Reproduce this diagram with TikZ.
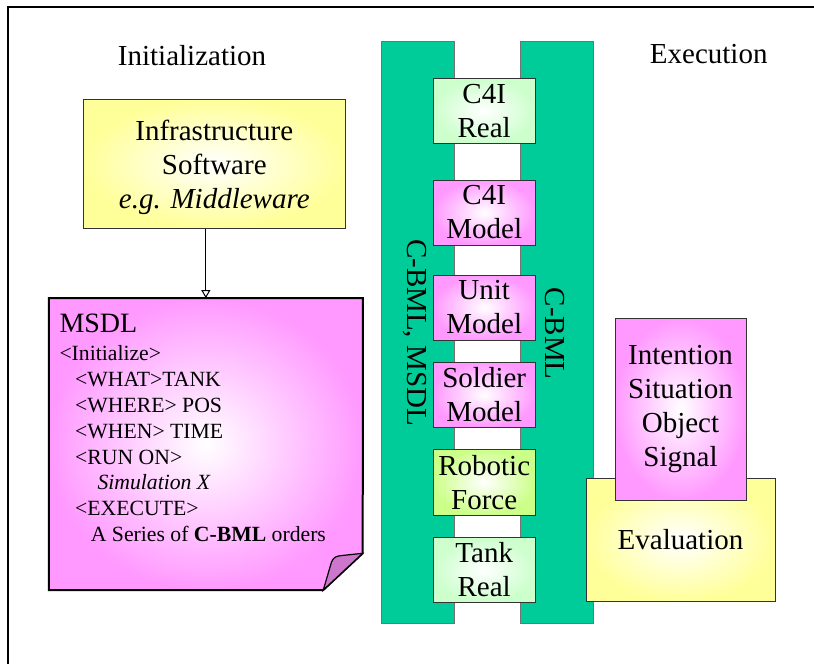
\documentclass[tikz,border=0pt]{standalone}
\usepackage{fontspec}
\setmainfont{Liberation Serif}
\usetikzlibrary{arrows.meta}
\definecolor{barcol}{HTML}{00CC99}
\definecolor{pinkcol}{HTML}{FF99FF}
\definecolor{yellowcol}{HTML}{FFFF99}
\definecolor{realcol}{HTML}{CCFFCC}
\definecolor{limecol}{HTML}{CCFF88}
\definecolor{flapcol}{HTML}{CC77CC}
\begin{document}
\begin{tikzpicture}[x=1pt,y=-1pt,
		bigtext/.style={font=\fontsize{29}{34}\selectfont, align=center, inner sep=0pt},
		box/.style={bigtext, draw=black!80, line width=1pt, inner color=white},
		pinkbox/.style={box, outer color=pinkcol},
		yellowbox/.style={box, outer color=yellowcol},
		realbox/.style={box, outer color=realcol},
		limebox/.style={box, outer color=limecol},
		modbox/.style={minimum width=101.7pt, minimum height=65pt},
		bar/.style={draw=black!55, fill=barcol, line width=1pt, minimum width=73pt, minimum height=582.3pt, inner sep=0pt}]
			\useasboundingbox (0,0) rectangle (814,664);
			\draw[line width=2pt] (8,664) |- (814,7);
			\node[bigtext, anchor=base] (init) at (192,65) {Initialization};
			\node[bigtext, anchor=base] (exec) at (708.7,63.3) {Execution};
			% initialization side
			\node[yellowbox, minimum width=261.4pt, minimum height=128.5pt, text depth=0pt] (infra) at (214.3,163.8) {Infrastructure\\Software\\\textit{e.g. Middleware}};
			\node[minimum width=313.7pt, minimum height=291.7pt, inner sep=0pt] (msdl) at (205.85,444.15) {};
			\draw[line width=2pt, inner color=white, outer color=pinkcol] (msdl.north west) -- (msdl.north east) -- (362.7,553.3) -- (323.3,590) -- (msdl.south west) -- cycle;
			\draw[line width=1.2pt, fill=flapcol] (323.3,590) -- (331.5,562) .. controls (333.5,557) and (336.5,556) .. (342,555.5) -- (362.7,553.3) -- cycle;
			\node[anchor=base west, align=left, inner sep=0pt, font=\fontsize{21.7}{25.9}\selectfont] (msdltext) at (59.3,541.7) {{\fontsize{28}{28}\selectfont MSDL}\\[2.4pt]
				<Initialize>\\
				\hspace*{15.7pt}<WHAT>TANK\\
				\hspace*{15.7pt}<WHERE> POS\\
				\hspace*{15.7pt}<WHEN> TIME\\
				\hspace*{15.7pt}<RUN ON>\\
				\hspace*{38pt}\textit{Simulation X}\\
				\hspace*{15.7pt}<EXECUTE>\\
				\hspace*{31.4pt}A Series of \textbf{C-BML} orders};
			\draw[-{Triangle[open,fill=white,length=8pt,width=9pt]}, line width=1pt] (infra.south -| msdl.north) -- (msdl.north);
			% the two C-BML bars
			\node[bar] (lbar) at (418.3,332.8) {};
			\node[bar] (rbar) at (557,332.8) {};
			\node[realbox, modbox] (c4ireal) at (484.2,110.8) {C4I\\Real};
			\node[pinkbox, modbox] (c4imodel) at (484.2,212.5) {C4I\\Model};
			\node[pinkbox, modbox] (unit) at (484.2,307.5) {Unit\\Model};
			\node[pinkbox, modbox] (soldier) at (484.2,394.8) {Soldier\\Model};
			\node[limebox, modbox, minimum height=65.7pt] (robot) at (484.2,482.2) {Robotic\\Force};
			\node[realbox, modbox, minimum height=65.4pt] (tank) at (484.2,570) {Tank\\Real};
			\node[bigtext, rotate=-90] (lbl) at (414.5,332.5) {C-BML, MSDL};
			\node[bigtext, rotate=-90] (rbl) at (554.8,333.6) {C-BML};
			% execution side
			\node[yellowbox, minimum width=189pt, minimum height=123.4pt] (eval) at (680.5,540) {Evaluation};
			\node[pinkbox, minimum width=131pt, minimum height=181.7pt] (sig) at (680.5,409.2) {Intention\\Situation\\Object\\Signal};
\end{tikzpicture}
\end{document}
